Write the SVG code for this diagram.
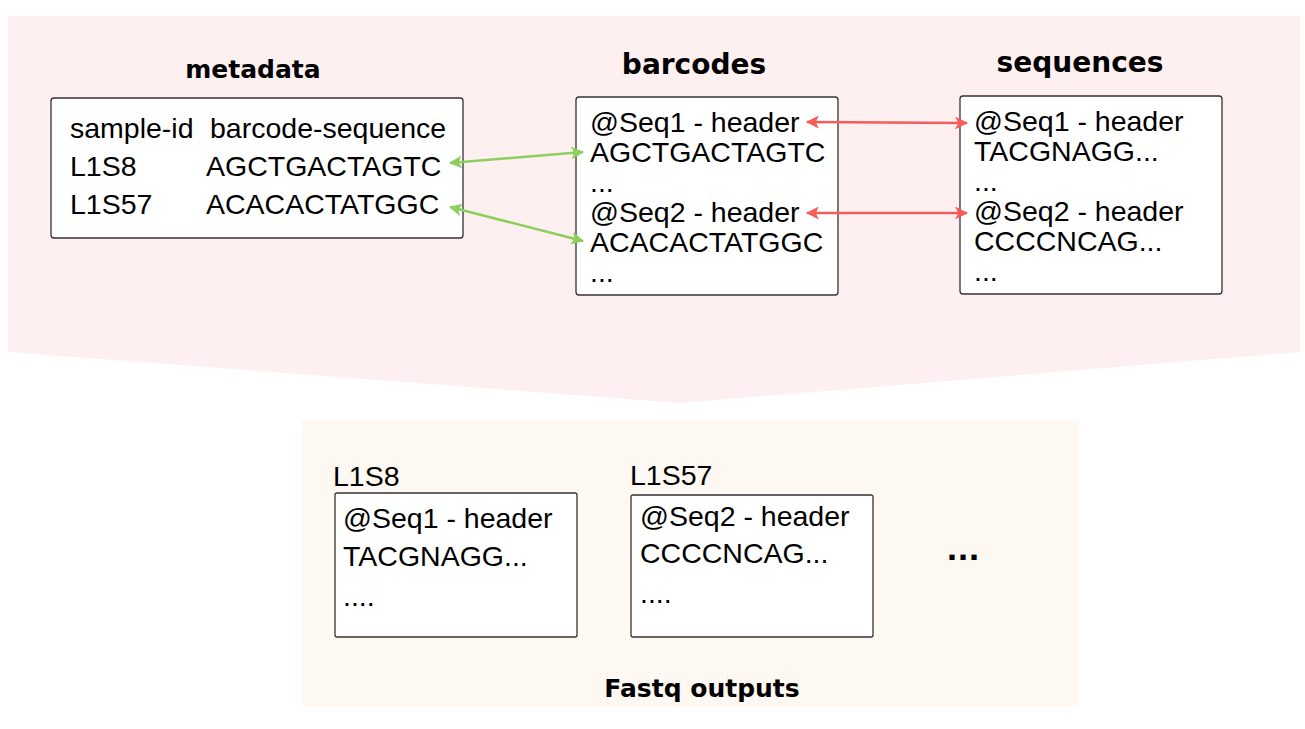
<svg xmlns="http://www.w3.org/2000/svg" width="1305" height="729" viewBox="0 0 1305 729">
<defs>
<style>
.box{fill:#fff;stroke:#333;stroke-width:1.3}
.t{font-family:"Liberation Sans",Arial,sans-serif;font-size:28.5px;fill:#000}
.h{font-family:"DejaVu Sans",Verdana,sans-serif;font-weight:bold;fill:#000;text-anchor:middle}
.g{stroke:#8ccf5c;stroke-width:2.5;fill:none}
.r{stroke:#f65c5c;stroke-width:2.5;fill:none}
</style>
<marker id="ag" viewBox="0 0 12 12" refX="11" refY="6" markerWidth="13" markerHeight="13" markerUnits="userSpaceOnUse" orient="auto-start-reverse"><path d="M0,0 L12,6 L0,12 L3,6 Z" fill="#8ccf5c"/></marker>
<marker id="ar" viewBox="0 0 12 12" refX="11" refY="6" markerWidth="13" markerHeight="13" markerUnits="userSpaceOnUse" orient="auto-start-reverse"><path d="M0,0 L12,6 L0,12 L3,6 Z" fill="#f65c5c"/></marker>
</defs>
<rect width="1305" height="729" fill="#fff"/>
<polygon points="8,16 1300,16 1300,352 680,403 8,352" fill="#fef0f0"/>
<rect x="302" y="420" width="777" height="287" fill="#fdf8f2"/>

<g id="metadata">
<text class="h" x="253" y="78" style="font-size:25px">metadata</text>
<rect class="box" x="51" y="98" width="412" height="140" rx="3"/>
<text class="t" x="70" y="138">sample-id</text>
<text class="t" x="210" y="138">barcode-sequence</text>
<text class="t" x="70" y="176">L1S8</text>
<text class="t" x="206" y="176">AGCTGACTAGTC</text>
<text class="t" x="70" y="214">L1S57</text>
<text class="t" x="206" y="214">ACACACTATGGC</text>
</g>

<g id="barcodes">
<text class="h" x="694" y="74" style="font-size:28px">barcodes</text>
<rect class="box" x="576" y="97" width="262" height="198" rx="3"/>
<text class="t" x="590" y="132">@Seq1 - header</text>
<text class="t" x="590" y="162">AGCTGACTAGTC</text>
<text class="t" x="590" y="192">...</text>
<text class="t" x="590" y="222">@Seq2 - header</text>
<text class="t" x="590" y="252">ACACACTATGGC</text>
<text class="t" x="590" y="282">...</text>
</g>

<g id="sequences">
<text class="h" x="1080" y="72" style="font-size:28px">sequences</text>
<rect class="box" x="960" y="96" width="262" height="198" rx="3"/>
<text class="t" x="974" y="131">@Seq1 - header</text>
<text class="t" x="974" y="161">TACGNAGG...</text>
<text class="t" x="974" y="191">...</text>
<text class="t" x="974" y="221">@Seq2 - header</text>
<text class="t" x="974" y="251">CCCCNCAG...</text>
<text class="t" x="974" y="281">...</text>
</g>

<g id="out1">
<text class="t" x="333" y="486">L1S8</text>
<rect class="box" x="335" y="493" width="242" height="144" rx="2"/>
<text class="t" x="343" y="528">@Seq1 - header</text>
<text class="t" x="343" y="566">TACGNAGG...</text>
<text class="t" x="343" y="606">....</text>
</g>

<g id="out2">
<text class="t" x="630" y="485">L1S57</text>
<rect class="box" x="631" y="495" width="242" height="142" rx="2"/>
<text class="t" x="640" y="526">@Seq2 - header</text>
<text class="t" x="640" y="563">CCCCNCAG...</text>
<text class="t" x="640" y="603">....</text>
</g>

<g id="more">
<text class="h" x="963" y="560" style="font-size:29px">...</text>
</g>

<g id="label">
<text class="h" x="702" y="697" style="font-size:25px">Fastq outputs</text>
</g>

<g id="connectors">
<line class="g" x1="450" y1="163" x2="583" y2="152" marker-start="url(#ag)" marker-end="url(#ag)"/>
<line class="g" x1="450" y1="207" x2="583" y2="241" marker-start="url(#ag)" marker-end="url(#ag)"/>
<line class="r" x1="807" y1="122" x2="967" y2="123" marker-start="url(#ar)" marker-end="url(#ar)"/>
<line class="r" x1="807" y1="213" x2="967" y2="213" marker-start="url(#ar)" marker-end="url(#ar)"/>
</g>
</svg>
